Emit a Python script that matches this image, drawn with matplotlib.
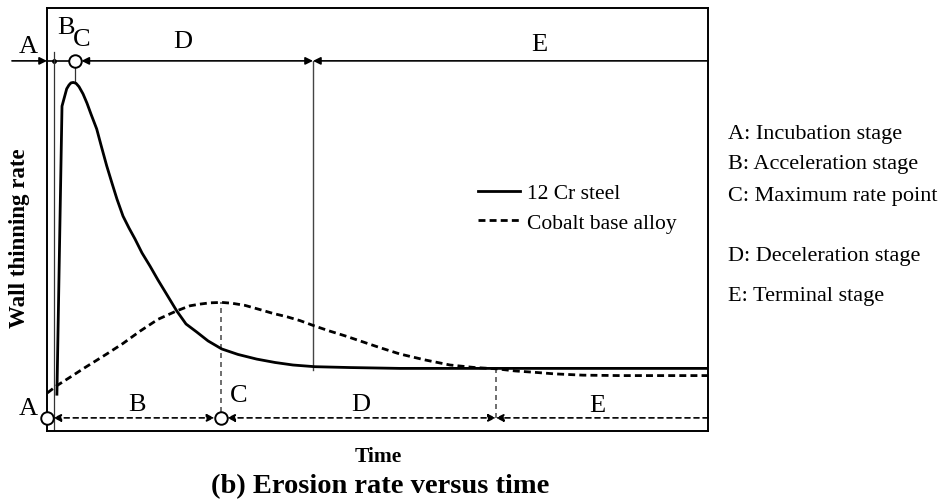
import matplotlib
matplotlib.use("Agg")
import matplotlib.pyplot as plt
import numpy as np

plt.rcParams["font.family"] = ["Liberation Serif", "DejaVu Serif"]

# ---------------------------------------------------------------------------
# Data (time and rate in arbitrary units, 0-100)
# ---------------------------------------------------------------------------
steel_t = [1.5, 2.27, 2.98, 3.33, 3.63, 3.98, 4.39, 4.84, 5.45, 6.05, 6.66,
           7.52, 8.17, 9.03, 9.83, 10.59, 11.5, 12.4, 13.31, 14.37, 15.58,
           16.79, 18.15, 19.62, 21.03, 22.65, 24.36, 26.43, 28.89, 31.72,
           34.49, 37.22, 40.54, 45.84, 53.4, 100]
steel_r = [8.7, 76.8, 80.9, 81.8, 82.3, 82.4, 82.2, 81.4, 79.7, 77.5, 74.9,
           71.4, 67.6, 62.7, 58.6, 54.8, 50.8, 48.0, 45.4, 42.1, 39.0,
           35.7, 32.2, 28.4, 25.3, 23.4, 21.3, 19.4, 18.1, 17.0,
           16.2, 15.6, 15.2, 15.0, 14.8, 14.8]

cobalt_t = [0.05, 1.47, 3.48, 5.75, 9.03, 11.5, 14.07, 16.79, 19.62, 21.63,
            23.15, 24.66, 26.43, 27.99, 29.95, 32.22, 34.19, 36.31, 38.27,
            40.54, 42.81, 45.08, 47.35, 50.38, 53.4, 57.19, 60.97, 64.75,
            68.03, 70.8, 73.52, 76.85, 81.09, 86.69, 100]
cobalt_r = [9.0, 10.7, 12.7, 15.0, 18.2, 20.7, 23.6, 26.4, 28.4, 29.6,
            30.0, 30.3, 30.4, 30.2, 29.7, 28.7, 27.8, 27.0, 26.1,
            24.8, 23.6, 22.5, 21.3, 19.7, 18.2, 16.8, 15.6, 15.0,
            14.7, 14.2, 13.9, 13.5, 13.2, 13.1, 13.1]

# stage boundaries: end of A, end of B, C point, end of D
steel_stages = [0, 1.13, 4.24, 40.24]
cobalt_stages = [0, 26.3, 67.9]

stage_letters = ["A", "B", "C", "D", "E"]
stage_names = ["Incubation stage", "Acceleration stage", "Maximum rate point",
               "Deceleration stage", "Terminal stage"]
series_names = ["12 Cr steel", "Cobalt base alloy"]

Y_TOP = 87.5   # top stage bar
Y_BOT = 3.1    # bottom stage bar
W, H = 947, 502

fig = plt.figure(figsize=(W / 100, H / 100), dpi=100)
ax = fig.add_axes([47 / W, 70 / H, 661 / W, 423 / H])
ax.set_xlim(0, 100)
ax.set_ylim(0, 100)
ax.set_xticks([])
ax.set_yticks([])
for s in ax.spines.values():
    s.set_linewidth(1.4)

# curves
ax.plot(steel_t, steel_r, color="black", lw=2.0, solid_joinstyle="round",
        label=series_names[0], zorder=3)
ax.plot(cobalt_t, cobalt_r, color="black", lw=2.0, dashes=(2.5, 1.5),
        label=series_names[1], zorder=3)

# ---------------------------------------------------------------------------
# Top stage bar (12 Cr steel)
# ---------------------------------------------------------------------------
a_end, b_end, c_pt, d_end = steel_stages
head = dict(color="black", lw=1.2, mutation_scale=11, shrinkA=0, shrinkB=0)

ax.annotate("", xy=(a_end, Y_TOP), xytext=(-5.3, Y_TOP),
            arrowprops=dict(arrowstyle="-|>", **head), annotation_clip=False)
ax.plot([a_end, c_pt], [Y_TOP, Y_TOP], color="black", lw=1.2)
ax.plot(b_end, Y_TOP, "o", color="black", ms=2.5)
ax.plot([b_end, b_end], [0, 89.6], color="#333333", lw=0.9)
ax.annotate("", xy=(d_end, Y_TOP), xytext=(c_pt, Y_TOP),
            arrowprops=dict(arrowstyle="<|-|>", color="black", lw=1.2,
                            mutation_scale=11, shrinkA=4.6, shrinkB=0))
ax.annotate("", xy=(d_end, Y_TOP), xytext=(100, Y_TOP),
            arrowprops=dict(arrowstyle="-|>", **head))
ax.plot(c_pt, Y_TOP, "o", mfc="white", mec="black", mew=1.4, ms=9, zorder=5)
steel_peak = np.interp(c_pt, steel_t, steel_r)
ax.plot([c_pt, c_pt], [steel_peak, Y_TOP - 1.5], color="#333333", lw=0.9)
ax.plot([d_end, d_end], [np.interp(d_end, steel_t, steel_r) - 0.8, Y_TOP],
        color="#444444", lw=1.0)

# ---------------------------------------------------------------------------
# Bottom stage bar (cobalt base alloy)
# ---------------------------------------------------------------------------
ca, cc, cd = cobalt_stages
dash_head = dict(color="black", lw=1.2, mutation_scale=11, linestyle=(0, (3, 2.4)))
ax.annotate("", xy=(cc, Y_BOT), xytext=(ca, Y_BOT),
            arrowprops=dict(arrowstyle="<|-|>", shrinkA=4.6, shrinkB=4.6,
                            **dash_head), annotation_clip=False)
ax.annotate("", xy=(cd, Y_BOT), xytext=(cc, Y_BOT),
            arrowprops=dict(arrowstyle="<|-|>", shrinkA=4.6, shrinkB=0,
                            **dash_head))
ax.annotate("", xy=(cd, Y_BOT), xytext=(100, Y_BOT),
            arrowprops=dict(arrowstyle="-|>", shrinkA=0, shrinkB=0, **dash_head))
ax.plot([cc, cc], [Y_BOT + 1.5, np.interp(cc, cobalt_t, cobalt_r)],
        color="#555555", lw=1.2, dashes=(3, 2.4))
ax.plot([cd, cd], [Y_BOT, np.interp(cd, cobalt_t, cobalt_r)],
        color="#555555", lw=1.2, dashes=(3, 2.4))
for x in (ca, cc):
    ax.plot(x, Y_BOT, "o", mfc="white", mec="black", mew=1.4, ms=9,
            zorder=5, clip_on=False)

# stage letters
lbl = dict(fontsize=19, ha="center", va="center")
top_pos = [(-2.8, 91.0), (2.9, 95.5), (5.3, 92.7), (20.6, 92.2), (74.4, 91.5)]
bot_pos = [(-2.9, 5.4), (13.6, 6.4), (29.0, 8.5), (47.4, 6.4), (83.2, 6.2)]
for letter, (x, y) in zip(stage_letters, top_pos):
    ax.text(x, y, letter, **lbl)
for letter, (x, y) in zip(stage_letters, bot_pos):
    ax.text(x, y, letter, **lbl)

# legend
ax.legend(loc="upper left", bbox_to_anchor=(478 / W, 1 - 184 / H),
          bbox_transform=fig.transFigure, frameon=False, fontsize=15.5,
          handlelength=1.95, handletextpad=0.33, labelspacing=0.45,
          borderpad=0, borderaxespad=0)

# stage key on the right
key_y = [134, 165, 197, 256, 297]
for letter, name, y in zip(stage_letters, stage_names, key_y):
    fig.text(728 / W, 1 - y / H, f"{letter}: {name}",
             fontsize=16, va="center", ha="left")

fig.text(20 / W, 1 - 238 / H, "Wall thinning rate", rotation=90,
         fontsize=16.5, fontweight="bold", ha="center", va="center")
fig.text(378 / W, 1 - 457 / H, "Time", fontsize=15.5, fontweight="bold",
         ha="center", va="center")
fig.text(380 / W, 1 - 487 / H, "(b) Erosion rate versus time", fontsize=20.5,
         fontweight="bold", ha="center", va="center")

fig.savefig("out.png", dpi=100)
